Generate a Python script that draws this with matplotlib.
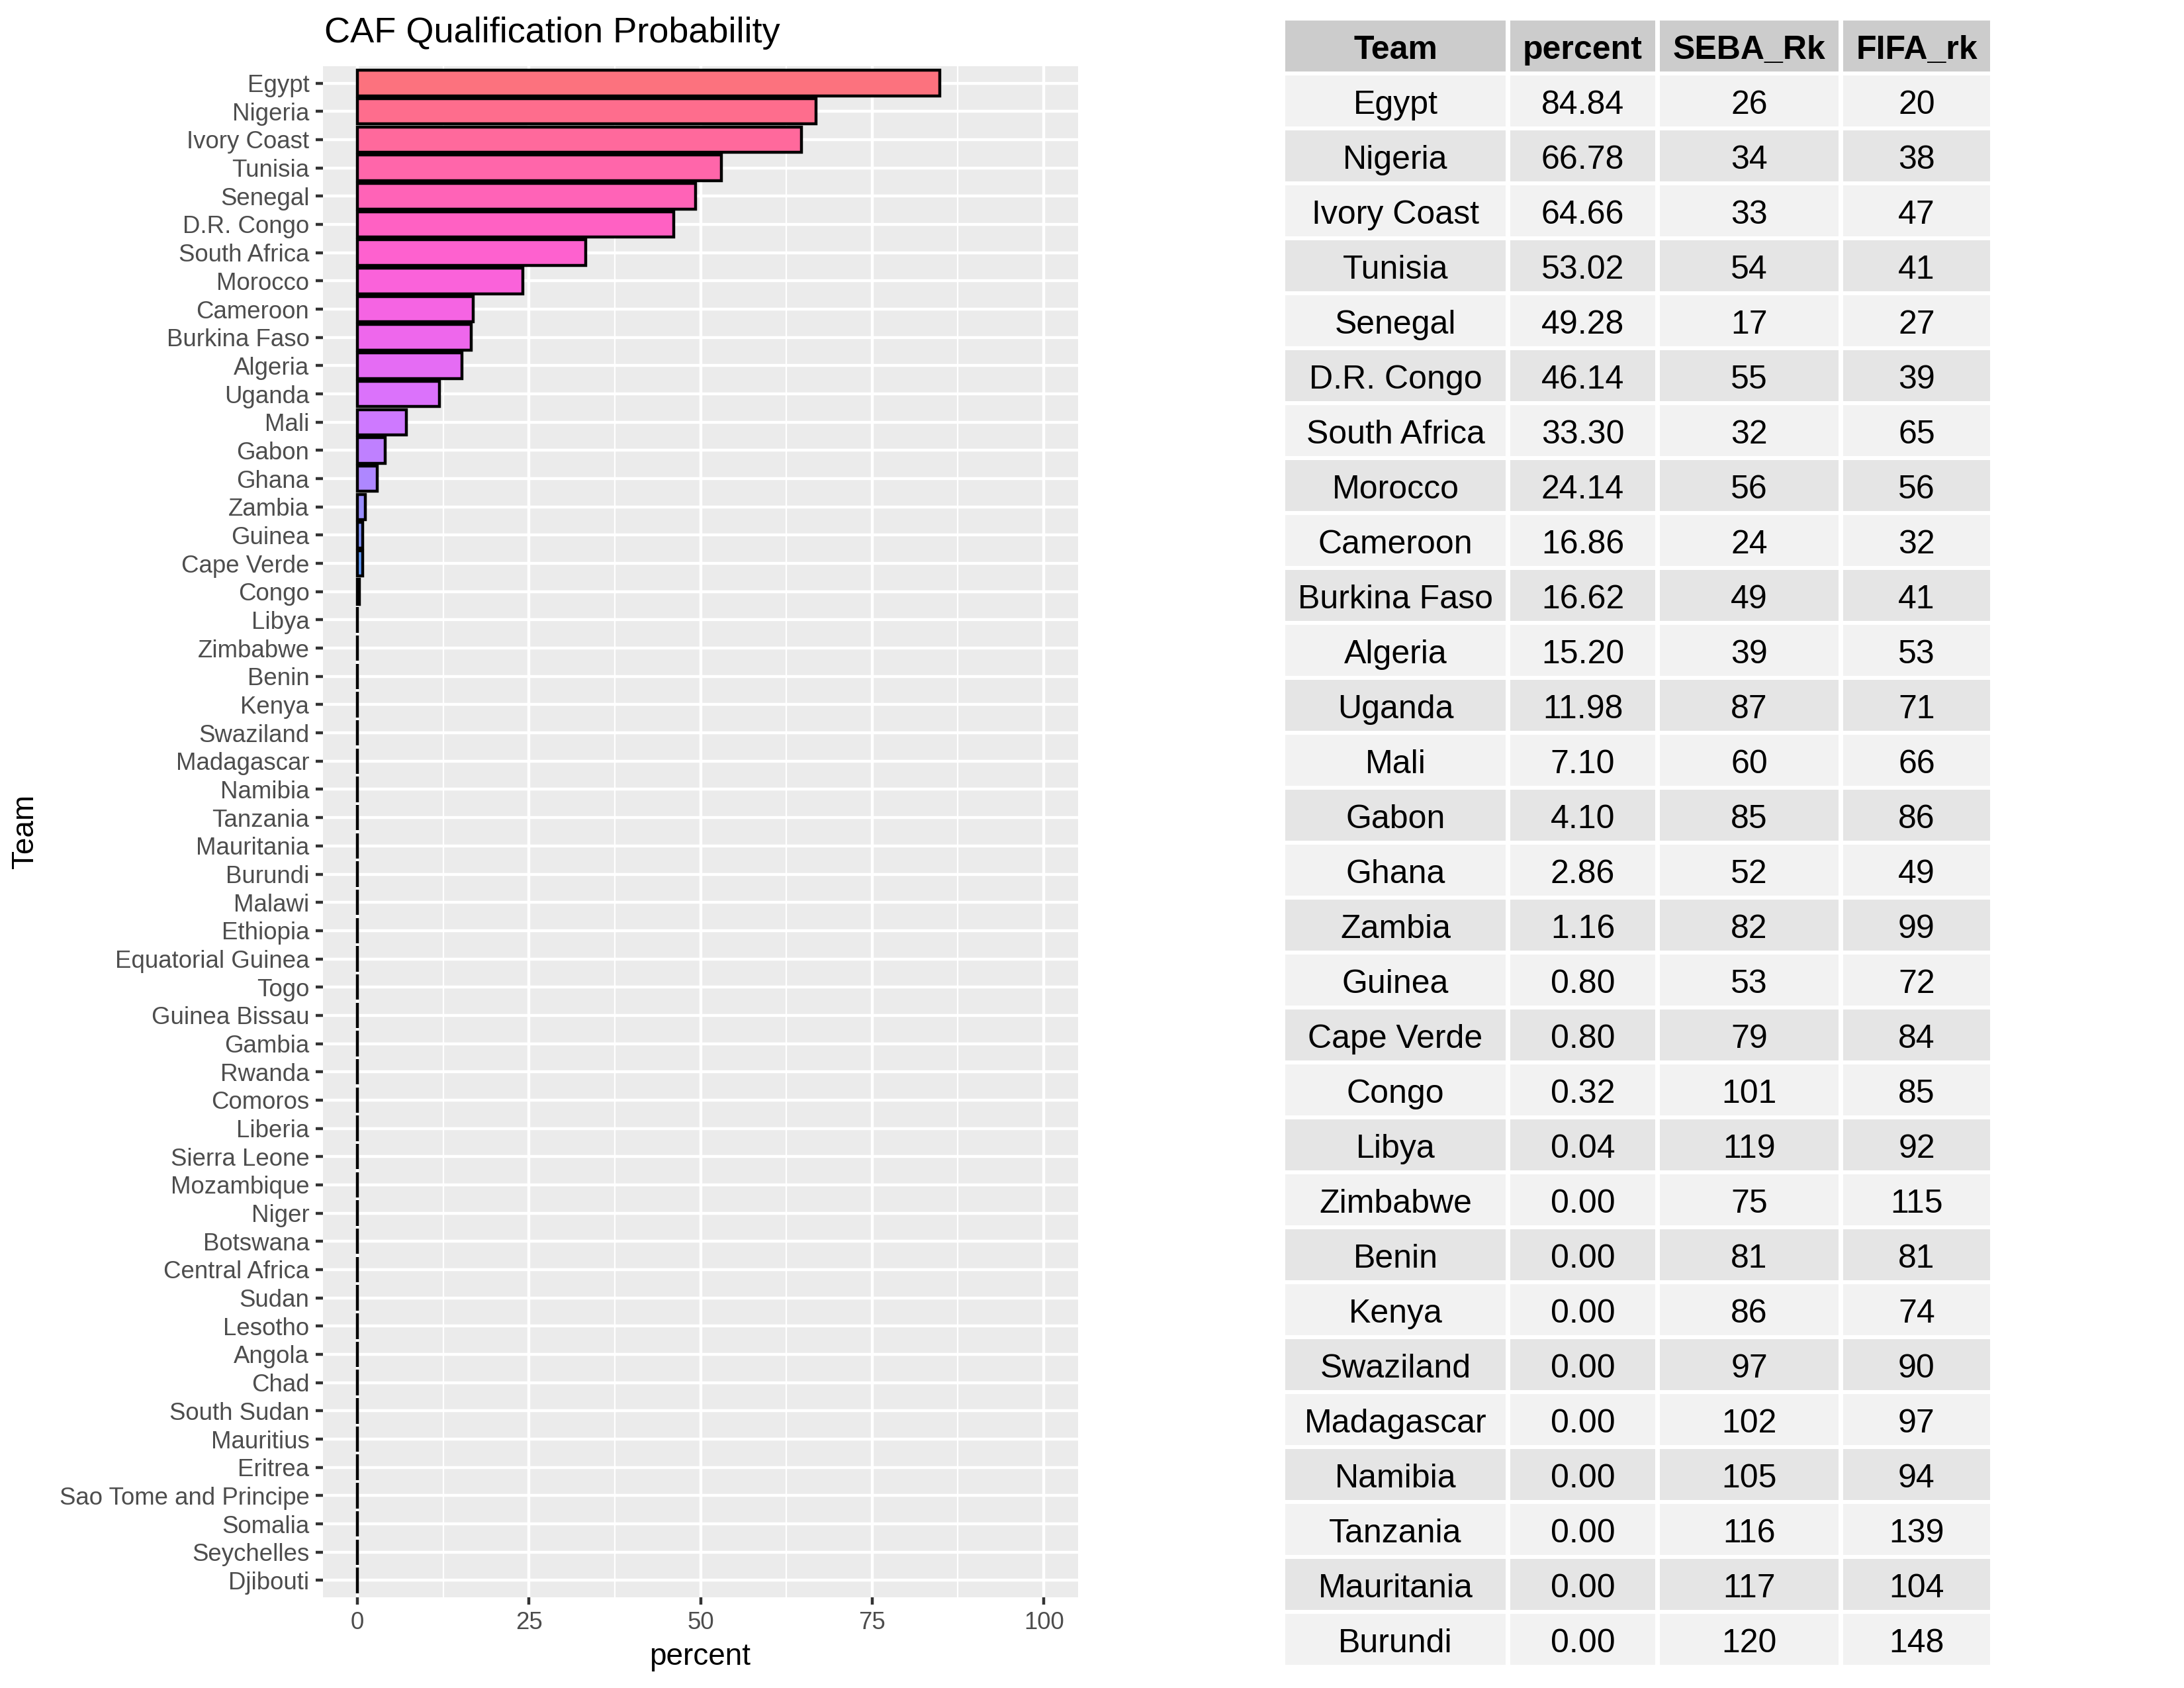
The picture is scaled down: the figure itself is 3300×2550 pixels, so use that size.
import numpy as np
import matplotlib
matplotlib.use('Agg')
import matplotlib.pyplot as plt
from matplotlib.patches import Rectangle

plt.rcParams['font.family'] = ['Liberation Sans', 'DejaVu Sans']

# dados
teams = ['Egypt', 'Nigeria', 'Ivory Coast', 'Tunisia', 'Senegal', 'D.R. Congo',
         'South Africa', 'Morocco', 'Cameroon', 'Burkina Faso', 'Algeria', 'Uganda',
         'Mali', 'Gabon', 'Ghana', 'Zambia', 'Guinea', 'Cape Verde', 'Congo', 'Libya',
         'Zimbabwe', 'Benin', 'Kenya', 'Swaziland', 'Madagascar', 'Namibia', 'Tanzania',
         'Mauritania', 'Burundi', 'Malawi', 'Ethiopia', 'Equatorial Guinea', 'Togo',
         'Guinea Bissau', 'Gambia', 'Rwanda', 'Comoros', 'Liberia', 'Sierra Leone',
         'Mozambique', 'Niger', 'Botswana', 'Central Africa', 'Sudan', 'Lesotho',
         'Angola', 'Chad', 'South Sudan', 'Mauritius', 'Eritrea',
         'Sao Tome and Principe', 'Somalia', 'Seychelles', 'Djibouti']

percent = [84.84, 66.78, 64.66, 53.02, 49.28, 46.14, 33.30, 24.14, 16.86, 16.62,
           15.20, 11.98, 7.10, 4.10, 2.86, 1.16, 0.80, 0.80, 0.32, 0.04,
           0.00, 0.00, 0.00, 0.00, 0.00, 0.00, 0.00, 0.00, 0.00, 0.00,
           0.00, 0.00, 0.00, 0.00, 0.00, 0.00, 0.00, 0.00, 0.00, 0.00,
           0.00, 0.00, 0.00, 0.00, 0.00, 0.00, 0.00, 0.00, 0.00, 0.00,
           0.00, 0.00, 0.00, 0.00]

seba_rk = [26, 34, 33, 54, 17, 55, 32, 56, 24, 49, 39, 87, 60, 85, 52, 82, 53, 79,
           101, 119, 75, 81, 86, 97, 102, 105, 116, 117, 120]
fifa_rk = [20, 38, 47, 41, 27, 39, 65, 56, 32, 41, 53, 71, 66, 86, 49, 99, 72, 84,
           85, 92, 115, 81, 74, 90, 97, 94, 139, 104, 148]
n_table = len(seba_rk)
table_header = ['Team', 'percent', 'SEBA_Rk', 'FIFA_rk']


def hcl_color(h, c=100.0, l=65.0):
    # paleta hue do ggplot (HCL -> sRGB)
    hr = np.deg2rad(h)
    u, v = c * np.cos(hr), c * np.sin(hr)
    xn, yn, zn = 95.047, 100.0, 108.883
    d = xn + 15 * yn + 3 * zn
    un, vn = 4 * xn / d, 9 * yn / d
    y = yn * ((l + 16) / 116) ** 3
    up, vp = u / (13 * l) + un, v / (13 * l) + vn
    x = y * 9 * up / (4 * vp)
    z = y * (12 - 3 * up - 20 * vp) / (4 * vp)
    m = np.array([[3.2404542, -1.5371385, -0.4985314],
                  [-0.9692660, 1.8760108, 0.0415560],
                  [0.0556434, -0.2040259, 1.0572252]])
    rgb = np.clip(m @ (np.array([x, y, z]) / 100), 0, 1)
    rgb = np.where(rgb <= 0.0031308, 12.92 * rgb, 1.055 * rgb ** (1 / 2.4) - 0.055)
    return tuple(np.clip(rgb, 0, 1))


n = len(teams)
pos = np.arange(n)[::-1]  # Egypt no topo
colors = [hcl_color(15 + p * 360.0 / n) for p in pos]

W, H = 3300, 2550
fig = plt.figure(figsize=(11, 8.5), dpi=300)

# --- grafico de barras ---
ax = fig.add_axes([488 / W, 1 - 2413 / H, 1141 / W, 2313 / H])
ax.set_facecolor('#EBEBEB')
ax.barh(pos, percent, height=0.9, color=colors, edgecolor='black', linewidth=1.07, zorder=3)
ax.set_xlim(-5, 105)
ax.set_ylim(-0.6, n - 0.4)
ax.set_xticks([0, 25, 50, 75, 100])
ax.set_xticks([12.5, 37.5, 62.5, 87.5], minor=True)
ax.set_yticks(pos)
ax.set_yticklabels(teams)
ax.grid(which='major', color='white', linewidth=1.07, zorder=0)
ax.grid(which='minor', axis='x', color='white', linewidth=0.53, zorder=0)
ax.set_axisbelow(True)
for s in ax.spines.values():
    s.set_visible(False)
ax.tick_params(which='major', length=2.75, width=1.07, color='#333333',
               labelcolor='#4D4D4D', labelsize=8.8, pad=2.2)
ax.tick_params(which='minor', length=0)

fig.text(490 / W, 1 - 50 / H, 'CAF Qualification Probability', fontsize=13.0,
         ha='left', va='center')
fig.text(38 / W, 1 - 1256 / H, 'Team', fontsize=11, rotation=90, ha='center', va='center')
fig.text(1058 / W, 1 - 2503 / H, 'percent', fontsize=11, ha='center', va='center')

# --- tabela ---
col_w = [340, 226, 277, 229]
n_rows = n_table + 1
tab = fig.add_axes([1938.5 / W, 1 - (27.5 + 83 * n_rows) / H, sum(col_w) / W, 83 * n_rows / H])
tab.set_xlim(0, sum(col_w))
tab.set_ylim(n_rows, 0)
tab.axis('off')

gx, gy = 7, 6 / 83
col_x = np.concatenate([[0], np.cumsum(col_w)])
rows = [table_header] + [[teams[i], f'{percent[i]:.2f}', str(seba_rk[i]), str(fifa_rk[i])]
                         for i in range(n_table)]
for r, row in enumerate(rows):
    if r == 0:
        fc = '#CCCCCC'
    else:
        fc = '#F2F2F2' if r % 2 == 1 else '#E5E5E5'
    for c, txt in enumerate(row):
        tab.add_patch(Rectangle((col_x[c] + gx / 2, r + gy / 2), col_w[c] - gx, 1 - gy,
                                facecolor=fc, edgecolor='none'))
        tab.text(col_x[c] + col_w[c] / 2, r + 0.53, txt, fontsize=12, ha='center',
                 va='center_baseline', fontweight='bold' if r == 0 else 'normal')

fig.savefig('out.png', dpi=300)
